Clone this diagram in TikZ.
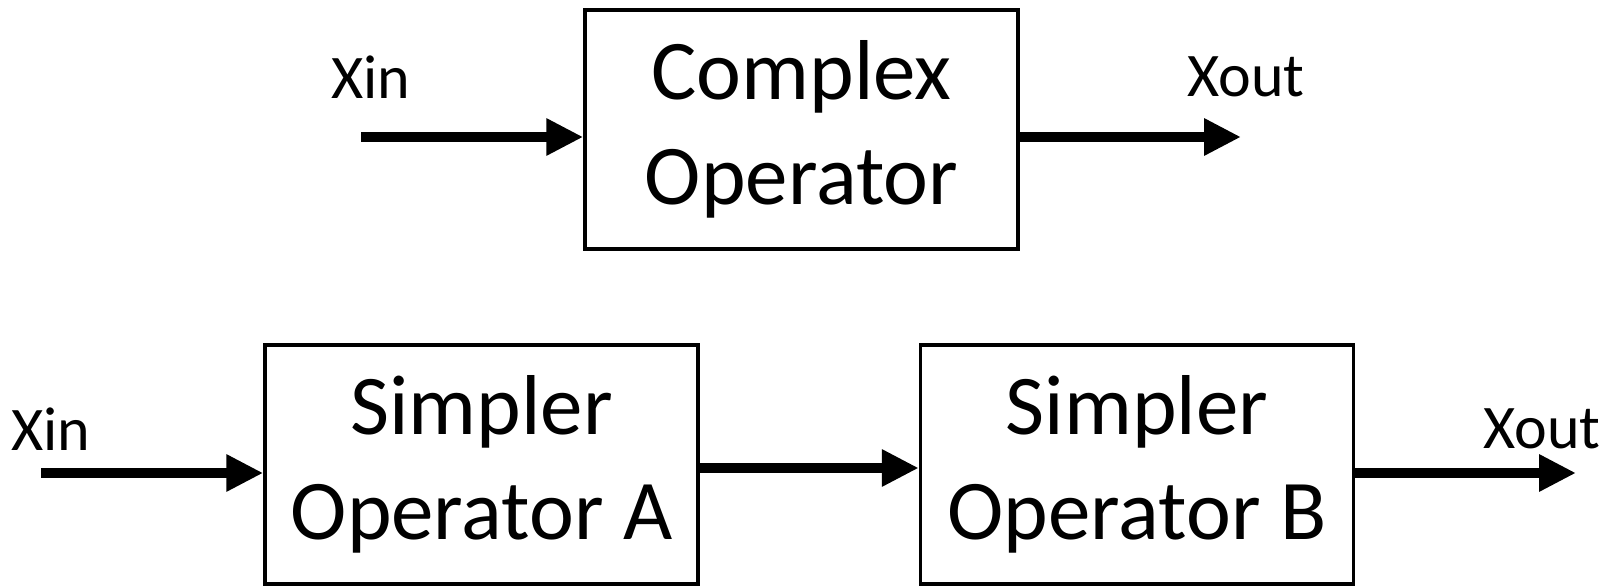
\documentclass[tikz,border=0pt]{standalone}
\usepackage{fontspec}
\setmainfont{Carlito}
\usetikzlibrary{arrows.meta}
\begin{document}
\begin{tikzpicture}[x=1pt,y=1pt,
  opbox/.style={draw, line width=3.5pt, minimum width=433pt, minimum height=239pt,
    inner sep=0pt, align=center, font=\fontsize{85}{105}\selectfont},
  sig/.style={font=\fontsize{62}{70}\selectfont, inner sep=0pt},
  arr/.style={line width=9.5pt, -{Triangle[length=37pt,width=35pt]}}]
\useasboundingbox (0,0) rectangle (1612,586);
% single operator
\node[opbox] (cx) at (801.5,456.5) {Complex\\Operator};
\node[sig] (xin1) at (371,509) {Xin};
\node[sig] (xout1) at (1246,509) {Xout};
\coordinate (s1) at (361,449);
\coordinate (e1) at (1241,449);
\draw[arr] (s1) -- (s1 -| cx.west);
\draw[arr] (cx.east |- e1) -- (e1);
% split into two operators
\node[opbox] (opa) at (481.5,121.5) {Simpler\\Operator A};
\node[opbox] (opb) at (1137,121.5) {Simpler\\Operator B};
\node[sig] (xin2) at (51,157) {Xin};
\node[sig] (xout2) at (1542,157) {Xout};
\coordinate (s2) at (41,113);
\coordinate (m2) at (0,118);
\coordinate (e2) at (1576,113);
\draw[arr] (s2) -- (s2 -| opa.west);
\draw[arr] (opa.east |- m2) -- (opb.west |- m2);
\draw[arr] (opb.east |- e2) -- (e2);
\end{tikzpicture}
\end{document}
